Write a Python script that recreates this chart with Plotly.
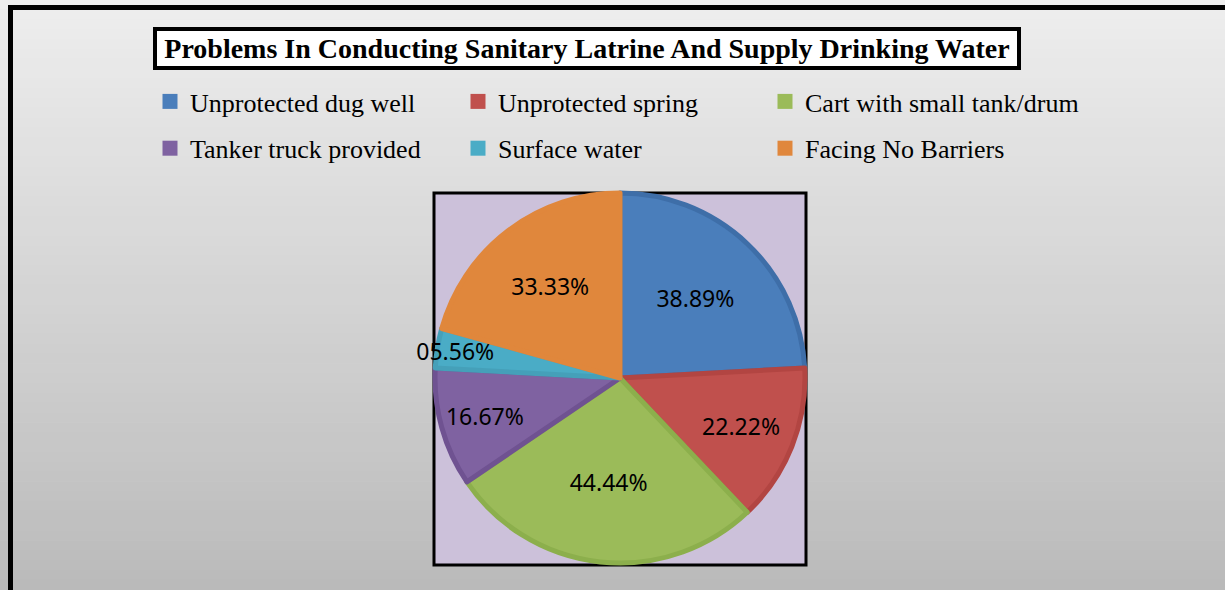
import plotly.graph_objects as go

W, H = 1225, 590

categories = ["Unprotected dug well", "Unprotected spring", "Cart with small tank/drum",
              "Tanker truck provided", "Surface water", "Facing No Barriers"]
values = [38.89, 22.22, 44.44, 16.67, 5.56, 33.33]
fill_colors = ["#4a7ebb", "#c0504d", "#9bbb59", "#7f62a1", "#4aacc6", "#e0873c"]
edge_colors = ["#3e6ea8", "#b24542", "#8caf4c", "#6f5291", "#45a0b9", "#e0873c"]
text_labels = ["%05.2f%%" % v for v in values]
title_text = "Problems In Conducting Sanitary Latrine And Supply Drinking Water"
legend_columns = [("legend", 150), ("legend2", 458), ("legend3", 765)]


def px(x):
    return x / W


def py(y):
    return 1 - y / H


fig = go.Figure()
fig.add_trace(go.Pie(
    labels=categories, values=values, text=text_labels,
    textinfo="text", textposition="inside", insidetextorientation="horizontal",
    sort=False, direction="clockwise", rotation=0,
    marker=dict(colors=fill_colors, line=dict(color=edge_colors, width=5)),
    textfont=dict(family="Noto Sans", size=23, color="#000000"),
    domain=dict(x=[px(435), px(805)], y=[py(563), py(193)]),
    hoverinfo="label+text", showlegend=False,
))

# legend entries: three columns of two rows, same colours as the slices
for i, (name, col) in enumerate(zip(categories, fill_colors)):
    fig.add_trace(go.Scatter(
        x=[None], y=[None], mode="markers", name=name,
        marker=dict(symbol="square", size=15, color=col, line=dict(width=0)),
        legend=legend_columns[i % 3][0], legendgroup="g%d" % i, hoverinfo="skip",
    ))

shapes = []
# background gradient strips
n = 60
top_c, bot_c = 0xee, 0xba
for i in range(n):
    y0 = i * H / n
    y1 = (i + 1) * H / n
    c = int(round(top_c + (bot_c - top_c) * (i + 0.5) / n))
    col = "rgb(%d,%d,%d)" % (c, c, c)
    shapes.append(dict(type="rect", xref="paper", yref="paper",
                       x0=0, x1=1, y0=py(y1), y1=py(y0) + 0.001,
                       fillcolor=col, line=dict(width=0), layer="below"))
# outer frame
shapes.append(dict(type="rect", xref="paper", yref="paper",
                   x0=px(10.5), x1=px(1260), y0=py(640), y1=py(7.5),
                   line=dict(color="#000000", width=5), fillcolor="rgba(0,0,0,0)", layer="below"))
# plot area
shapes.append(dict(type="rect", xref="paper", yref="paper",
                   x0=px(434), x1=px(806), y0=py(565), y1=py(193),
                   line=dict(color="#000000", width=3), fillcolor="#ccc1da", layer="below"))

legend_common = dict(orientation="v", xanchor="left", yanchor="top",
                     tracegroupgap=10, traceorder="grouped",
                     font=dict(family="Liberation Serif", size=26, color="#000000"),
                     bgcolor="rgba(0,0,0,0)", itemclick=False,
                     itemdoubleclick=False)
legends = {key: dict(x=px(xpos), y=py(78), **legend_common) for key, xpos in legend_columns}

fig.update_layout(
    width=W, height=H,
    margin=dict(l=0, r=0, t=0, b=0),
    paper_bgcolor="#e0e0e0",
    plot_bgcolor="rgba(0,0,0,0)",
    xaxis=dict(visible=False, domain=[0, 0.01]),
    yaxis=dict(visible=False, domain=[0, 0.01]),
    shapes=shapes,
    showlegend=True,
    uniformtext=dict(minsize=23, mode="show"),
    annotations=[dict(text="<b>" + title_text + "</b>", xref="paper", yref="paper",
                      x=px(587), y=py(48.5), xanchor="center", yanchor="middle",
                      showarrow=False, width=860, height=35,
                      font=dict(family="Liberation Serif", size=28, color="#000000"),
                      bgcolor="#ffffff", bordercolor="#000000", borderwidth=4, borderpad=0)],
    **legends,
)

fig.write_html("out.html", config={"displayModeBar": False},
               post_script="document.body.style.margin='0px';")
